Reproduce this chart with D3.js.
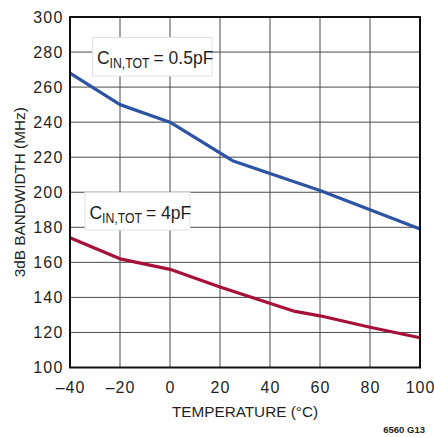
<!DOCTYPE html>
<html>
<head>
<meta charset="utf-8">
<script src="https://cdn.jsdelivr.net/npm/d3@7"></script>
<style>
  html, body { margin: 0; padding: 0; background: #fff; }
  svg text { font-family: "Liberation Sans", Arial, Helvetica, sans-serif; fill: #231f20; }
</style>
</head>
<body>
<svg id="chart" width="434" height="437"></svg>
<script>
// Temperature (°C) vs 3dB bandwidth (MHz) for two input capacitances
const tempsHalfPF = [-40, -20, 0, 25, 60, 80, 100];
const bwHalfPF    = [268, 250, 240, 218, 201, 190, 179];
const temps4PF    = [-40, -20, 0, 20, 50, 60, 80, 100];
const bw4PF       = [174, 162, 156, 146, 132, 129.5, 123, 117];
const xTicks = [-40, -20, 0, 20, 40, 60, 80, 100];
const yTicks = [100, 120, 140, 160, 180, 200, 220, 240, 260, 280, 300];

const svg = d3.select("#chart");
const m = { left: 70, right: 420, top: 17, bottom: 367.5 };

const x = d3.scaleLinear().domain([-40, 100]).range([m.left, m.right]);
const y = d3.scaleLinear().domain([100, 300]).range([m.bottom, m.top]);

// grid
const grid = svg.append("g");
grid.selectAll("line.v").data(xTicks).join("line")
  .attr("x1", d => x(d)).attr("x2", d => x(d))
  .attr("y1", m.top).attr("y2", m.bottom)
  .attr("stroke", "#4a4a4a").attr("stroke-width", 1);
grid.selectAll("line.h").data(yTicks).join("line")
  .attr("y1", d => y(d)).attr("y2", d => y(d))
  .attr("x1", m.left).attr("x2", m.right)
  .attr("stroke", "#4a4a4a").attr("stroke-width", 1);

// axes (labels only, frame drawn separately)
const xAxis = d3.axisBottom(x).tickValues(xTicks).tickSize(0).tickPadding(14)
  .tickFormat(d => d < 0 ? "\u2013" + Math.abs(d) : d);
svg.append("g").attr("transform", `translate(0,${m.bottom})`).call(xAxis)
  .call(g => g.select(".domain").remove())
  .selectAll("text").style("font-size", "16px").style("letter-spacing", "1px")
  .attr("fill", "#231f20");

const yAxis = d3.axisLeft(y).tickValues(yTicks).tickSize(0).tickPadding(6.5);
svg.append("g").attr("transform", `translate(${m.left},0)`).call(yAxis)
  .call(g => g.select(".domain").remove())
  .selectAll("text").style("font-size", "16px").style("letter-spacing", "1.2px")
  .attr("fill", "#231f20");

// series
const line = d3.line().x(d => x(d[0])).y(d => y(d[1]));
svg.append("path").datum(d3.zip(tempsHalfPF, bwHalfPF))
  .attr("d", line).attr("fill", "none")
  .attr("stroke", "#2d54a3").attr("stroke-width", 3.2).attr("stroke-linejoin", "round");
svg.append("path").datum(d3.zip(temps4PF, bw4PF))
  .attr("d", line).attr("fill", "none")
  .attr("stroke", "#a6103a").attr("stroke-width", 3.2).attr("stroke-linejoin", "round");

// frame
svg.append("rect").attr("x", m.left).attr("y", m.top)
  .attr("width", m.right - m.left).attr("height", m.bottom - m.top)
  .attr("fill", "none").attr("stroke", "#111").attr("stroke-width", 2);

// capacitance labels: C with a condensed subscript IN,TOT, then "= value"
function capLabel(bx, by, bw, bh, value) {
  const g = svg.append("g");
  g.append("rect").attr("x", bx).attr("y", by).attr("width", bw).attr("height", bh)
    .attr("fill", "#fff").attr("stroke", "#e2e2e2").attr("stroke-width", 1);
  const tx = bx + 4.5, base = by + 26.8;
  g.append("text").attr("x", tx).attr("y", base).style("font-size", "17.5px").text("C");
  g.append("text")
    .attr("transform", `translate(${tx + 12.5},${base + 3.4}) scale(0.82,1)`)
    .style("font-size", "15px").text("IN,TOT");
  g.append("text").attr("x", tx + 56.5).attr("y", base).style("font-size", "17.5px")
    .text("= " + value);
}
capLabel(92.5, 37.5, 119.5, 38.5, "0.5pF");
capLabel(85, 192.5, 105, 37.5, "4pF");

// axis titles
svg.append("text").attr("x", (m.left + m.right) / 2).attr("y", 417)
  .attr("text-anchor", "middle").style("font-size", "15.3px").text("TEMPERATURE (°C)");
svg.append("text").attr("transform", `translate(25,${(m.top + m.bottom) / 2}) rotate(-90)`)
  .attr("text-anchor", "middle").style("font-size", "15.3px").text("3dB BANDWIDTH (MHz)");

svg.append("text").attr("x", 425).attr("y", 432.5).attr("text-anchor", "end")
  .style("font-size", "9.5px").style("font-weight", "bold").text("6560 G13");
</script>
</body>
</html>
